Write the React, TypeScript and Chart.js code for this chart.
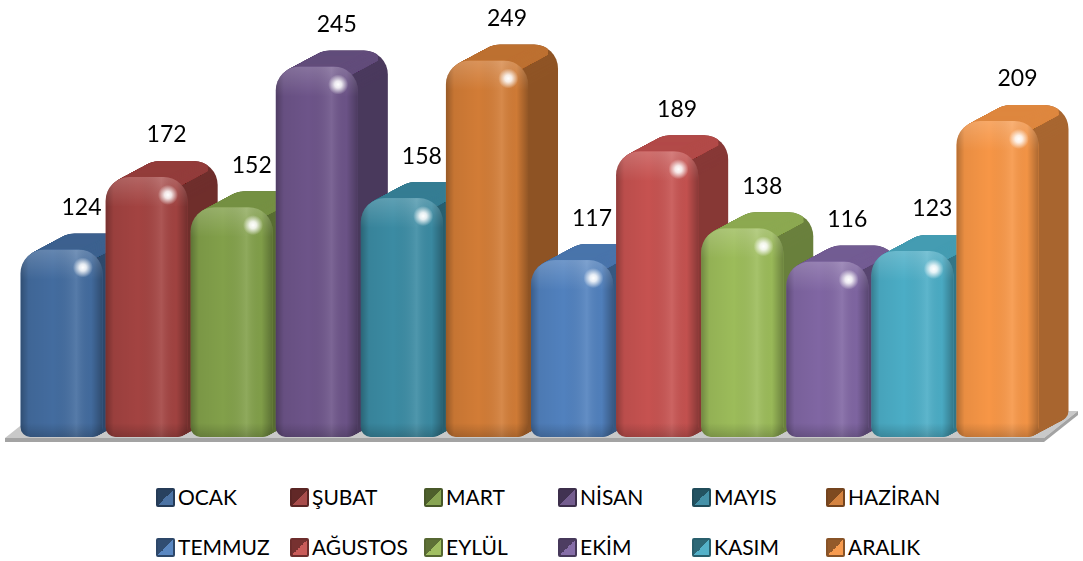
import React, { useEffect, useRef } from "react";
import { Chart, registerables } from "chart.js";

Chart.register(...registerables);

const MONTHS = ["OCAK", "ŞUBAT", "MART", "NİSAN", "MAYIS", "HAZİRAN", "TEMMUZ", "AĞUSTOS", "EYLÜL", "EKİM", "KASIM", "ARALIK"];
const VALUES = [124, 172, 152, 245, 158, 249, 117, 189, 138, 116, 123, 209];
const COLORS = ["#436C9F", "#A34341", "#82A04A", "#6D5489", "#3B8BA3", "#D27C36", "#5181BE", "#C65250", "#9CBC5A", "#8066A3", "#4BADC6", "#F79646"];
const CATEGORIES = [""];
const Y_MAX = 289;

const FONT = "Lato, 'Open Sans', sans-serif";
const DX = 30;
const DY = -16;
const RADII = { topLeft: 24, topRight: 24, bottomLeft: 10, bottomRight: 10 };

function hexToRgb(hex: string) {
  const h = hex.replace("#", "");
  return [parseInt(h.slice(0, 2), 16), parseInt(h.slice(2, 4), 16), parseInt(h.slice(4, 6), 16)];
}
function shade(hex: string, f: number) {
  const [r, g, b] = hexToRgb(hex);
  const m = (c: number) => Math.max(0, Math.min(255, Math.round(f < 1 ? c * f : c + (255 - c) * (f - 1))));
  return `rgb(${m(r)},${m(g)},${m(b)})`;
}

function rrPath(ctx: CanvasRenderingContext2D, x: number, y: number, w: number, h: number) {
  ctx.beginPath();
  (ctx as any).roundRect(x, y, w, h, [RADII.topLeft, RADII.topRight, RADII.bottomRight, RADII.bottomLeft]);
}

function barGeom(el: any) {
  const p = el.getProps(["x", "y", "base", "width"], true);
  return { left: p.x - p.width / 2, right: p.x + p.width / 2, top: p.y, base: p.base, w: p.width, cx: p.x };
}

const bars3d = {
  id: "bars3d",
  beforeDatasetsDraw(chart: any) {
    const ctx: CanvasRenderingContext2D = chart.ctx;
    const ca = chart.chartArea;
    const baseY = chart.scales.y.getPixelForValue(0);
    // floor
    ctx.save();
    const fl = ca.left - 14;
    const fr = ca.right + 4;
    ctx.fillStyle = "#C9C9C9";
    ctx.beginPath();
    ctx.moveTo(fl, baseY + 1);
    ctx.lineTo(fr, baseY + 1);
    ctx.lineTo(fr + 34, baseY - 26);
    ctx.lineTo(fl + 34, baseY - 26);
    ctx.closePath();
    ctx.fill();
    ctx.fillStyle = "#A3A3A3";
    ctx.beginPath();
    ctx.moveTo(fl, baseY + 1);
    ctx.lineTo(fr, baseY + 1);
    ctx.lineTo(fr, baseY + 5);
    ctx.lineTo(fl, baseY + 5);
    ctx.closePath();
    ctx.fill();
    ctx.beginPath();
    ctx.moveTo(fr, baseY + 1);
    ctx.lineTo(fr + 34, baseY - 26);
    ctx.lineTo(fr + 34, baseY - 22);
    ctx.lineTo(fr, baseY + 5);
    ctx.closePath();
    ctx.fill();
    ctx.restore();

    const N = 30;
    chart.data.datasets.forEach((ds: any, i: number) => {
      const meta = chart.getDatasetMeta(i);
      meta.data.forEach((el: any) => {
        const g = barGeom(el);
        const col = ds.backgroundColor as string;
        ctx.save();
        ctx.fillStyle = shade(col, 0.68);
        for (let k = N; k >= 1; k--) {
          rrPath(ctx, g.left + (k * DX) / N, g.top + (k * DY) / N, g.w, g.base - g.top);
          ctx.fill();
        }
        ctx.restore();
        // top face
        ctx.save();
        ctx.beginPath();
        ctx.moveTo(g.left - 2, g.top + 10);
        ctx.lineTo(g.right - 10, g.top + 10);
        ctx.lineTo(g.right - 10 + DX, g.top + DY + 10);
        ctx.lineTo(g.right - 10 + DX, g.top + DY - 4);
        ctx.lineTo(g.left - 2, g.top + DY - 4);
        ctx.closePath();
        ctx.clip();
        ctx.fillStyle = shade(col, 0.9);
        for (let k = N; k >= 1; k--) {
          rrPath(ctx, g.left + (k * DX) / N, g.top + (k * DY) / N, g.w, g.base - g.top);
          ctx.fill();
        }
        ctx.restore();
      });
    });
  },
  afterDatasetsDraw(chart: any) {
    const ctx: CanvasRenderingContext2D = chart.ctx;
    chart.data.datasets.forEach((ds: any, i: number) => {
      const meta = chart.getDatasetMeta(i);
      meta.data.forEach((el: any, j: number) => {
        const g = barGeom(el);
        ctx.save();
        rrPath(ctx, g.left, g.top, g.w, g.base - g.top);
        ctx.clip();
        const hg = ctx.createLinearGradient(g.left, 0, g.right, 0);
        hg.addColorStop(0, "rgba(0,0,0,0.28)");
        hg.addColorStop(0.1, "rgba(0,0,0,0.06)");
        hg.addColorStop(0.4, "rgba(0,0,0,0)");
        hg.addColorStop(0.68, "rgba(255,255,255,0.1)");
        hg.addColorStop(0.86, "rgba(0,0,0,0.02)");
        hg.addColorStop(1, "rgba(0,0,0,0.3)");
        ctx.fillStyle = hg;
        ctx.fillRect(g.left, g.top, g.w, g.base - g.top);
        const vg = ctx.createLinearGradient(0, g.top, 0, g.top + 30);
        vg.addColorStop(0, "rgba(255,255,255,0.18)");
        vg.addColorStop(1, "rgba(255,255,255,0)");
        ctx.fillStyle = vg;
        ctx.fillRect(g.left, g.top, g.w, 30);
        const bg = ctx.createLinearGradient(0, g.base - 14, 0, g.base);
        bg.addColorStop(0, "rgba(0,0,0,0)");
        bg.addColorStop(1, "rgba(0,0,0,0.18)");
        ctx.fillStyle = bg;
        ctx.fillRect(g.left, g.base - 14, g.w, 14);
        const hx = g.left + g.w * 0.76;
        const hy = g.top + 18;
        const rg = ctx.createRadialGradient(hx, hy, 0, hx, hy, 10);
        rg.addColorStop(0, "rgba(255,255,255,1)");
        rg.addColorStop(0.35, "rgba(255,255,255,0.85)");
        rg.addColorStop(1, "rgba(255,255,255,0)");
        ctx.fillStyle = rg;
        ctx.fillRect(hx - 12, hy - 12, 24, 24);
        ctx.restore();

        ctx.save();
        ctx.fillStyle = "#000";
        ctx.font = `23px ${FONT}`;
        ctx.textAlign = "center";
        ctx.textBaseline = "middle";
        ctx.fillText(String(ds.data[j]), g.cx + 20, g.top - 42);
        ctx.restore();
      });
    });
  },
};

export default function App() {
  const ref = useRef<HTMLCanvasElement | null>(null);
  useEffect(() => {
    document.body.style.margin = "0";
    const chart = new Chart(ref.current as HTMLCanvasElement, {
      type: "bar",
      data: {
        labels: CATEGORIES,
        datasets: MONTHS.map((m, i) => ({
          label: m,
          data: [VALUES[i]],
          backgroundColor: COLORS[i],
          borderWidth: 0,
          borderSkipped: false,
          borderRadius: RADII,
          barPercentage: 0.965,
          categoryPercentage: 1,
        })),
      },
      options: {
        responsive: false,
        animation: false,
        devicePixelRatio: 1,
        layout: { padding: { left: 19, right: 43, top: 0, bottom: 23 } },
        scales: {
          x: { display: false },
          y: { display: false, min: 0, max: Y_MAX },
        },
        plugins: { legend: { display: false }, tooltip: { enabled: false } },
      },
      plugins: [bars3d],
    } as any);
    return () => chart.destroy();
  }, []);

  return (
    <div style={{ position: "absolute", left: 0, top: 0, width: 1083, height: 561, background: "#fff", overflow: "hidden" }}>
      <canvas ref={ref} width={1083} height={460} style={{ position: "absolute", left: 0, top: 0, width: 1083, height: 460 }} />
      <div
        style={{
          position: "absolute",
          left: 156,
          top: 485,
          display: "grid",
          gridTemplateColumns: "repeat(6, 134px)",
          gridAutoRows: "24px",
          rowGap: 26,
          fontFamily: FONT,
          fontSize: 21,
          color: "#000",
        }}
      >
        {MONTHS.map((m, i) => (
          <div key={m} style={{ display: "flex", alignItems: "center", whiteSpace: "nowrap", lineHeight: "24px" }}>
            <span
              style={{
                display: "inline-block",
                width: 15,
                height: 15,
                marginRight: 3,
                border: `2px solid ${shade(COLORS[i], 0.55)}`,
                borderRadius: 2,
                background: `linear-gradient(to bottom right, ${shade(COLORS[i], 0.6)} 50%, ${shade(COLORS[i], 1.05)} 50%)`,
              }}
            />
            <span>{m}</span>
          </div>
        ))}
      </div>
    </div>
  );
}
